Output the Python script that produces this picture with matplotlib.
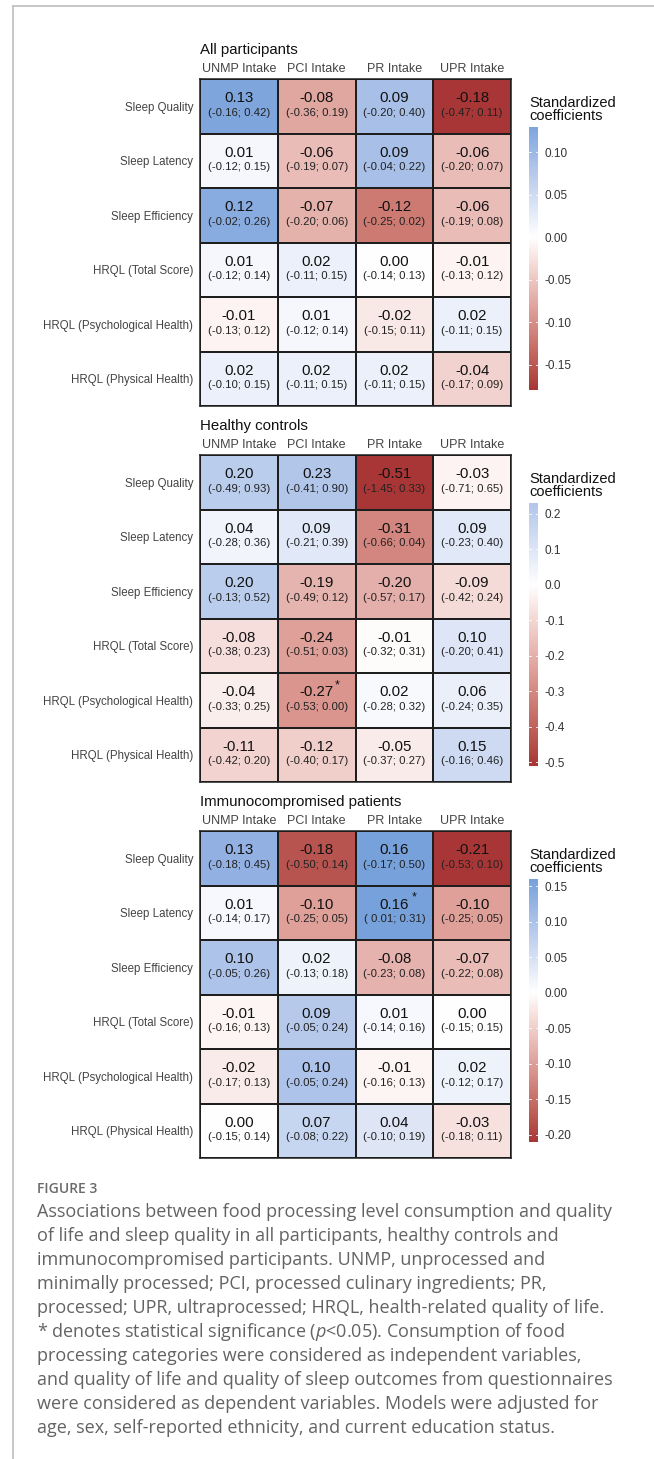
import numpy as np
import matplotlib
matplotlib.use("Agg")
import matplotlib.pyplot as plt
from matplotlib.colors import ListedColormap, Normalize, to_rgb
from matplotlib.lines import Line2D

# Etiquetas comunes a los tres paneles
outcomes = ["Sleep Quality", "Sleep Latency", "Sleep Efficiency",
            "HRQL (Total Score)", "HRQL (Psychological Health)",
            "HRQL (Physical Health)"]
intakes = ["UNMP Intake", "PCI Intake", "PR Intake", "UPR Intake"]

# Todos los participantes
all_coef = [[0.13, -0.08, 0.09, -0.18],
            [0.01, -0.06, 0.09, -0.06],
            [0.12, -0.07, -0.12, -0.06],
            [0.01, 0.02, 0.00, -0.01],
            [-0.01, 0.01, -0.02, 0.02],
            [0.02, 0.02, 0.02, -0.04]]
all_lo = [[-0.16, -0.36, -0.20, -0.47],
          [-0.12, -0.19, -0.04, -0.20],
          [-0.02, -0.20, -0.25, -0.19],
          [-0.12, -0.11, -0.14, -0.13],
          [-0.13, -0.12, -0.15, -0.11],
          [-0.10, -0.11, -0.11, -0.17]]
all_hi = [[0.42, 0.19, 0.40, 0.11],
          [0.15, 0.07, 0.22, 0.07],
          [0.26, 0.06, 0.02, 0.08],
          [0.14, 0.15, 0.13, 0.12],
          [0.12, 0.14, 0.11, 0.15],
          [0.15, 0.15, 0.15, 0.09]]
all_sig = []

# Controles sanos
hc_coef = [[0.20, 0.23, -0.51, -0.03],
           [0.04, 0.09, -0.31, 0.09],
           [0.20, -0.19, -0.20, -0.09],
           [-0.08, -0.24, -0.01, 0.10],
           [-0.04, -0.27, 0.02, 0.06],
           [-0.11, -0.12, -0.05, 0.15]]
hc_lo = [[-0.49, -0.41, -1.45, -0.71],
         [-0.28, -0.21, -0.66, -0.23],
         [-0.13, -0.49, -0.57, -0.42],
         [-0.38, -0.51, -0.32, -0.20],
         [-0.33, -0.53, -0.28, -0.24],
         [-0.42, -0.40, -0.37, -0.16]]
hc_hi = [[0.93, 0.90, 0.33, 0.65],
         [0.36, 0.39, 0.04, 0.40],
         [0.52, 0.12, 0.17, 0.24],
         [0.23, 0.03, 0.31, 0.41],
         [0.25, 0.00, 0.32, 0.35],
         [0.20, 0.17, 0.27, 0.46]]
hc_sig = [(4, 1)]

# Pacientes inmunocomprometidos
ic_coef = [[0.13, -0.18, 0.16, -0.21],
           [0.01, -0.10, 0.16, -0.10],
           [0.10, 0.02, -0.08, -0.07],
           [-0.01, 0.09, 0.01, 0.00],
           [-0.02, 0.10, -0.01, 0.02],
           [0.00, 0.07, 0.04, -0.03]]
ic_lo = [[-0.18, -0.50, -0.17, -0.53],
         [-0.14, -0.25, 0.01, -0.25],
         [-0.05, -0.13, -0.23, -0.22],
         [-0.16, -0.05, -0.14, -0.15],
         [-0.17, -0.05, -0.16, -0.12],
         [-0.15, -0.08, -0.10, -0.18]]
ic_hi = [[0.45, 0.14, 0.50, 0.10],
         [0.17, 0.05, 0.31, 0.05],
         [0.26, 0.18, 0.08, 0.08],
         [0.13, 0.24, 0.16, 0.15],
         [0.13, 0.24, 0.13, 0.17],
         [0.14, 0.22, 0.19, 0.11]]
ic_sig = [(1, 2)]

titles = ["All participants", "Healthy controls", "Immunocompromised patients"]
cbar_steps = [0.05, 0.1, 0.05]
cbar_fmt = ["{:.2f}", "{:.1f}", "{:.2f}"]

caption_head = "FIGURE 3"
caption_lines = [
    "Associations between food processing level consumption and quality",
    "of life and sleep quality in all participants, healthy controls and",
    "immunocompromised participants. UNMP, unprocessed and",
    "minimally processed; PCI, processed culinary ingredients; PR,",
    "processed; UPR, ultraprocessed; HRQL, health-related quality of life.",
    "* denotes statistical significance ($p$<0.05). Consumption of food",
    "processing categories were considered as independent variables,",
    "and quality of life and quality of sleep outcomes from questionnaires",
    "were considered as dependent variables. Models were adjusted for",
    "age, sex, self-reported ethnicity, and current education status.",
]

plt.rcParams["mathtext.fontset"] = "custom"
plt.rcParams["mathtext.it"] = "Open Sans:italic"
plt.rcParams["mathtext.rm"] = "Open Sans"


# --- gradiente rojo-blanco-azul interpolado en espacio Lab ---
M_RGB2XYZ = np.array([[0.4124, 0.3576, 0.1805],
                      [0.2126, 0.7152, 0.0722],
                      [0.0193, 0.1192, 0.9505]])
WHITE = M_RGB2XYZ.sum(axis=1)

def rgb2lab(rgb):
    c = np.asarray(rgb, float)
    lin = np.where(c <= 0.04045, c / 12.92, ((c + 0.055) / 1.055) ** 2.4)
    xyz = M_RGB2XYZ @ lin / WHITE
    f = np.where(xyz > 0.008856, np.cbrt(xyz), 7.787 * xyz + 16 / 116)
    return np.array([116 * f[1] - 16, 500 * (f[0] - f[1]), 200 * (f[1] - f[2])])

def lab2rgb(lab):
    L, a, b = lab
    fy_ = (L + 16) / 116
    f = np.array([fy_ + a / 500, fy_, fy_ - b / 200])
    xyz = np.where(f ** 3 > 0.008856, f ** 3, (f - 16 / 116) / 7.787) * WHITE
    lin = np.linalg.solve(M_RGB2XYZ, xyz)
    c = np.where(lin <= 0.0031308, 12.92 * lin, 1.055 * np.clip(lin, 0, None) ** (1 / 2.4) - 0.055)
    return np.clip(c, 0, 1)

def lab_gradient(low, mid, high, n=256):
    lo, md, hi = rgb2lab(to_rgb(low)), rgb2lab(to_rgb(mid)), rgb2lab(to_rgb(high))
    cols = []
    for t in np.linspace(0, 1, n):
        if t < 0.5:
            lab = lo + (md - lo) * (t / 0.5)
        else:
            lab = md + (hi - md) * ((t - 0.5) / 0.5)
        cols.append(lab2rgb(lab))
    return ListedColormap(cols)

cmap = lab_gradient("#A83636", "#FFFFFF", "#3D86D0")

W, H = 654, 1459
fig = plt.figure(figsize=(W / 100, H / 100), dpi=100)
fig.patch.set_facecolor("white")

def fx(px):
    return px / W

def fy(py):
    return 1 - py / H

chart_font = ["Liberation Sans Narrow", "Liberation Sans", "DejaVu Sans"]

# marco gris de la figura
fig.add_artist(Line2D([fx(13), fx(13)], [fy(6), 0], color="#BDBDBD", lw=1.2))
fig.add_artist(Line2D([fx(13), 1], [fy(6), fy(6)], color="#BDBDBD", lw=1.2))

panels = [(all_coef, all_lo, all_hi, all_sig),
          (hc_coef, hc_lo, hc_hi, hc_sig),
          (ic_coef, ic_lo, ic_hi, ic_sig)]
grid_top = [79, 455, 831]
grid_h = 327
grid_left, grid_w = 200, 311

for k, (coef, lo, hi, sig) in enumerate(panels):
    coef = np.array(coef)
    lo = np.array(lo)
    hi = np.array(hi)
    nr, nc = coef.shape
    m = np.abs(coef).max()
    norm = Normalize(-m, m)
    top = grid_top[k]

    ax = fig.add_axes([fx(grid_left), fy(top + grid_h), fx(grid_w), grid_h / H])
    ax.pcolormesh(np.arange(nc + 1), np.arange(nr + 1), coef, cmap=cmap, norm=norm,
                  edgecolors="#1E1E1E", linewidth=1.1)
    ax.set_xlim(0, nc)
    ax.set_ylim(nr, 0)
    ax.xaxis.tick_top()
    ax.set_xticks(np.arange(nc) + 0.5)
    ax.set_xticklabels(intakes, family=chart_font, fontsize=9, color="#444444")
    ax.set_yticks(np.arange(nr) + 0.5)
    ax.set_yticklabels(outcomes, family=chart_font, fontsize=8.3, color="#444444")
    ax.tick_params(length=0, pad=5)
    ax.tick_params(axis="x", pad=3)
    for s in ax.spines.values():
        s.set_color("#1E1E1E")
        s.set_linewidth(1.1)

    for r in range(nr):
        for c in range(nc):
            ax.text(c + 0.5, r + 0.35, f"{coef[r, c]:.2f}", ha="center", va="center",
                    family=chart_font, fontsize=10.8, color="#111111")
            ax.text(c + 0.5, r + 0.62, f"({lo[r, c]: .2f}; {hi[r, c]:.2f})",
                    ha="center", va="center", family=chart_font, fontsize=8.2,
                    color="#222222")
    for r, c in sig:
        ax.text(c + 0.76, r + 0.22, "*", ha="center", va="center",
                family=chart_font, fontsize=9, color="#111111")

    fig.text(fx(grid_left), fy(top - 29), titles[k], ha="left", va="center",
             family=chart_font, fontsize=10.8, color="#111111")

    # barra de color con el rango de los coeficientes
    dmin, dmax = coef.min(), coef.max()
    cb_top = top + 48
    cax = fig.add_axes([fx(529), fy(cb_top + 263), fx(9), 263 / H])
    yy = np.linspace(dmin, dmax, 300)
    cax.imshow(yy[:, None], cmap=cmap, norm=norm, aspect="auto", origin="lower",
               extent=[0, 1, dmin, dmax])
    cax.set_xlim(0, 1)
    cax.set_ylim(dmin, dmax)
    step = cbar_steps[k]
    ticks = np.arange(np.ceil(dmin / step - 1e-9), np.floor(dmax / step + 1e-9) + 1) * step
    cax.set_xticks([])
    cax.yaxis.tick_right()
    cax.set_yticks(ticks)
    cax.set_yticklabels([cbar_fmt[k].format(t + 0.0) for t in ticks],
                        family=chart_font, fontsize=8.5, color="#333333")
    cax.tick_params(length=0, pad=5)
    for t in ticks:
        cax.plot([0, 0.2], [t, t], color="white", lw=0.6)
        cax.plot([0.8, 1], [t, t], color="white", lw=0.6)
    for s in cax.spines.values():
        s.set_visible(False)
    fig.text(fx(529), fy(cb_top - 31), "Standardized\ncoefficients", ha="left",
             va="top", family=chart_font, fontsize=10.5, color="#111111",
             linespacing=0.95)

# pie de figura
fig.text(fx(37), fy(1189), caption_head, ha="left", va="center",
         family="Open Sans", fontsize=10, fontweight="semibold", color="#6A6A6A")
for i, line in enumerate(caption_lines):
    fig.text(fx(37), fy(1212 + 24 * i), line, ha="left", va="center",
             family="Open Sans", fontsize=13, color="#636363")

fig.savefig("out.png", dpi=100, facecolor="white")
